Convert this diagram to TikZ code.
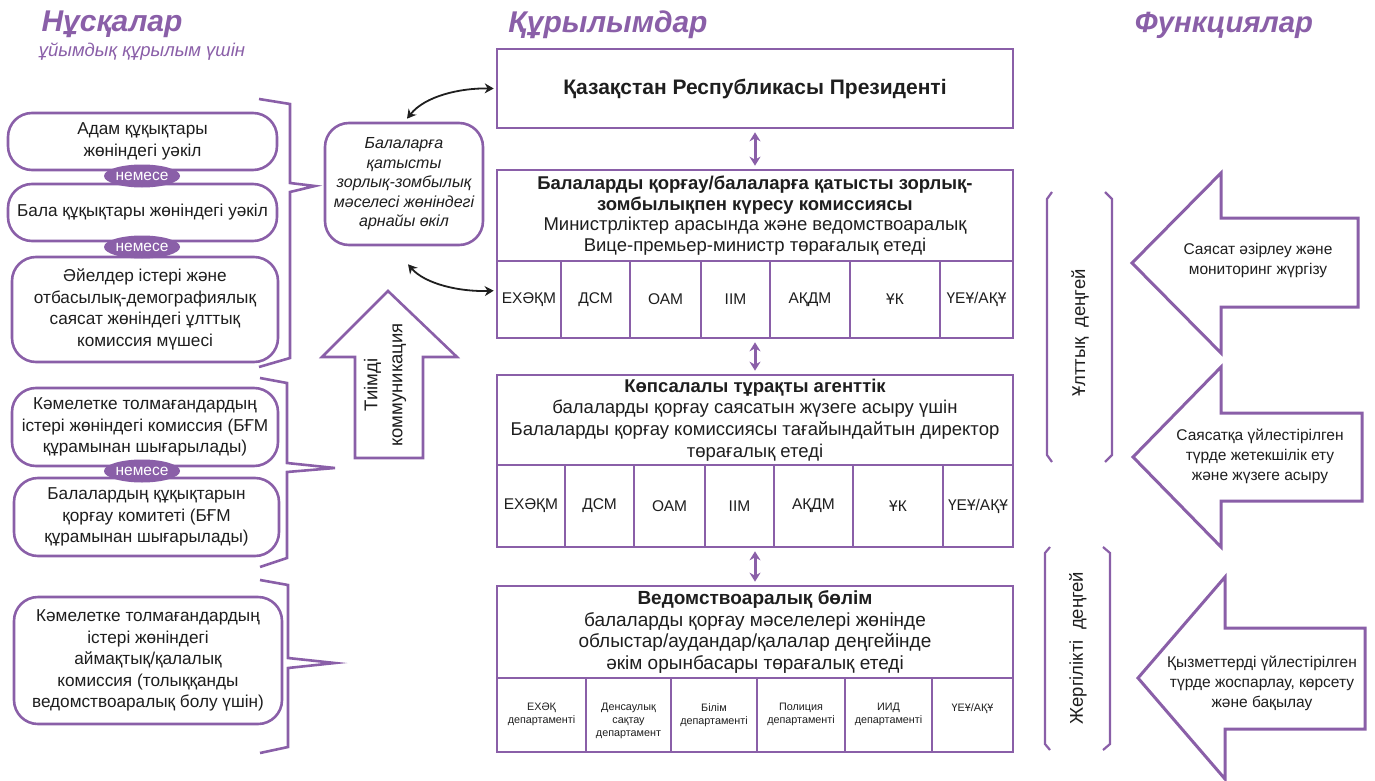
\documentclass[tikz,border=0pt]{standalone}
\usepackage{fontspec}
\setmainfont{Liberation Sans}
\usetikzlibrary{arrows.meta,calc,shapes.geometric}
\definecolor{pur}{RGB}{138,95,168}
\definecolor{txt}{RGB}{30,30,30}
\newcommand{\fsz}[2]{\fontsize{#1}{#2}\selectfont}
\begin{document}
\begin{tikzpicture}[x=1pt,y=-1pt,line join=miter,
  lbox/.style={draw=pur,line width=2.6pt,fill=white,rounded corners=24pt,align=center,text=txt,font=\fsz{17.2}{21.5},inner sep=0pt},
  mbox/.style={draw=pur,line width=2.6pt,align=center,text=txt,inner sep=0pt,font=\fsz{18.5}{20.5}},
  cell/.style={draw=pur,line width=2.6pt,align=center,text=txt,inner sep=0pt,font=\fsz{15.5}{18}},
  small/.style={align=center,text=txt,inner sep=0pt,font=\fsz{10.8}{13}},
  ornode/.style={ellipse,fill=pur,text=white,inner sep=0pt,minimum width=76pt,minimum height=23pt,font=\fsz{15.5}{16}},
  bracestyle/.style={draw=pur,line width=2.6pt},
  parrow/.style={draw=pur,line width=3pt,{Stealth[length=9pt,width=11pt]}-{Stealth[length=9pt,width=11pt]},shorten <=3pt,shorten >=3pt},
  barrow/.style={draw=black!88,line width=1.8pt,{Stealth[length=9pt,width=10pt]}-{Stealth[length=9pt,width=10pt]}},
  ttl/.style={text=pur,font=\fsz{30}{34}\bfseries\itshape,inner sep=0pt},
  bigarrow/.style={draw=pur,line width=3pt,fill=white},
  arrtext/.style={align=center,text=txt,font=\fsz{15.5}{20},inner sep=0pt},
  lvl/.style={rotate=90,text=txt,font=\fsz{18.5}{20},inner sep=0pt}]
\useasboundingbox (0,0) rectangle (1375,781);

% titles
\node[ttl] (t1) at (112,24) {Нұсқалар};
\node[text=pur,font=\fsz{18.5}{20}\itshape,inner sep=0pt] (t1b) at (142,52) {ұйымдық құрылым үшін};
\node[ttl] (t2) at (608,25) {Құрылымдар};
\node[ttl,font=\fsz{29.3}{34}\bfseries\itshape] (t3) at (1224,25) {Функциялар};

% left options
\node[lbox,minimum width=269pt,minimum height=57pt] (l1) at (142.5,141.5) {Адам құқықтары\\жөніндегі уәкіл};
\node[lbox,minimum width=269pt,minimum height=57pt] (l2) at (142.5,212.5) {Бала құқықтары жөніндегі уәкіл};
\node[lbox,minimum width=266pt,minimum height=105pt] (l3) at (145,309.5) {Әйелдер істері және\\отбасылық-демографиялық\\саясат жөніндегі ұлттық\\комиссия мүшесі};
\node[lbox,minimum width=266pt,minimum height=78pt] (l4) at (145,427) {Кәмелетке толмағандардың\\істері жөніндегі комиссия (БҒМ\\құрамынан шығарылады)};
\node[lbox,minimum width=265pt,minimum height=78pt] (l5) at (146.5,517) {Балалардың құқықтарын\\қорғау комитеті (БҒМ\\құрамынан шығарылады)};
\node[lbox,minimum width=268pt,minimum height=127pt] (l6) at (148,660.5) {Кәмелетке толмағандардың\\істері жөніндегі\\аймақтық/қалалық\\комиссия (толыққанды\\ведомствоаралық болу үшін)};
\node[ornode] (or1) at (142,176) {немесе};
\node[ornode] (or2) at (142,247) {немесе};
\node[ornode] (or3) at (142,471) {немесе};

% braces
\draw[bracestyle] (259,99) -- (290,104) -- (290,183) -- (315,186) -- (290,192) -- (290,358) -- (259,367);
\draw[bracestyle] (260,378) -- (287,383) -- (287,463) -- (335,468) -- (287,472) -- (287,558) -- (260,567);
\draw[bracestyle] (260,580) -- (288,585) -- (288,658) -- (335,663) -- (288,668) -- (288,747) -- (260,753);

% special representative
\node[lbox,rounded corners=24pt,minimum width=158pt,minimum height=122pt,font=\fsz{16}{19.5}\itshape] (rep) at (404,184) {Балаларға\\қатысты\\зорлық-зомбылық\\мәселесі жөніндегі\\арнайы өкіл};

% effective communication arrow
\draw[bigarrow,line width=2.6pt] (388,291) -- (457,357) -- (423,357) -- (423,458) -- (355,458) -- (355,357) -- (322,357) -- cycle;
\node[rotate=90,align=center,text=txt,font=\fsz{18.5}{25},inner sep=0pt] (comm) at (385,385) {Тиімді\\коммуникация};

% president
\node[mbox,minimum width=516pt,minimum height=79pt,font=\fsz{21}{24}\bfseries] (pres) at (755,88.5) {Қазақстан Республикасы Президенті};

% commission
\node[mbox,minimum width=516pt,minimum height=91pt] (commh) at (755,215.5) {\textbf{Балаларды қорғау/балаларға қатысты зорлық-}\\\textbf{зомбылықпен күресу комиссиясы}\\Министрліктер арасында және ведомствоаралық\\Вице-премьер-министр төрағалық етеді};
\foreach \a/\b/\t [count=\i] in {497/561/ЕХӘҚМ,561/630/ДСМ,630/701/ОАМ,701/770/ІІМ,770/850/АҚДМ,850/940/ҰК,940/1013/{ҮЕҰ/АҚҰ}}{
  \pgfmathsetmacro\w{\b-\a}
  \node[cell,minimum width=\w pt,minimum height=77pt] (ca\i) at ({(\a+\b)/2},299.5) {\t};
}

% agency
\node[mbox,minimum width=516pt,minimum height=90pt,font=\fsz{18.5}{21.7}] (agh) at (755,420) {\textbf{Көпсалалы тұрақты агенттік}\\балаларды қорғау саясатын жүзеге асыру үшін\\Балаларды қорғау комиссиясы тағайындайтын директор\\төрағалық етеді};
\foreach \a/\b/\t [count=\i] in {497/565/ЕХӘҚМ,565/634/ДСМ,634/705/ОАМ,705/774/ІІМ,774/853/АҚДМ,853/943/ҰК,943/1013/{ҮЕҰ/АҚҰ}}{
  \pgfmathsetmacro\w{\b-\a}
  \node[cell,minimum width=\w pt,minimum height=82pt] (cb\i) at ({(\a+\b)/2},506) {\t};
}

% department
\node[mbox,minimum width=516pt,minimum height=92pt,font=\fsz{19}{21.5}] (dph) at (755,632) {\textbf{Ведомствоаралық бөлім}\\балаларды қорғау мәселелері жөнінде\\облыстар/аудандар/қалалар деңгейінде\\әкім орынбасары төрағалық етеді};
\foreach \a/\b/\t [count=\i] in {497/586/{ЕХӘҚ\\департаменті},586/671/{Денсаулық\\сақтау\\департамент},671/757/{Білім\\департаменті},757/845/{Полиция\\департаменті},845/932/{ИИД\\департаменті},932/1013/{ҮЕҰ/АҚҰ}}{
  \pgfmathsetmacro\w{\b-\a}
  \node[cell,minimum width=\w pt,minimum height=74pt] (cc\i) at ({(\a+\b)/2},715) {};
  \node[small,anchor=north] (ct\i) at ({(\a+\b)/2},703) {\t};
}

% vertical purple arrows
\draw[parrow] (pres.south) -- (commh.north);
\draw[parrow] (ca4.south -| agh.north) -- (agh.north);
\draw[parrow] (cb4.south -| dph.north) -- (dph.north);

% curved black arrows
\coordinate (r1) at ($(rep.north)+(3,-3)$);
\coordinate (r2) at ($(rep.south)+(4,18)$);
\coordinate (p1) at ($(pres.west)+(-2,0)$);
\coordinate (p2) at ($(ca1.north west)+(-2,31)$);
\draw[barrow] (r1) .. controls (425,96) and (460,88) .. (p1);
\draw[barrow] (r2) .. controls (425,284) and (460,292) .. (p2);

% level brackets
\draw[bracestyle,line width=2.2pt] (1052,192) -- (1047,199) -- (1047,455) -- (1052,462);
\draw[bracestyle,line width=2.2pt] (1105,192) -- (1112,199) -- (1112,455) -- (1105,462);
\node[lvl] (nat) at (1080,333) {Ұлттық\ \ деңгей};
\draw[bracestyle,line width=2.2pt] (1050,547) -- (1045,553) -- (1045,744) -- (1050,750);
\draw[bracestyle,line width=2.2pt] (1103,547) -- (1110,553) -- (1110,744) -- (1103,750);
\node[lvl] (loc) at (1078,648) {Жергілікті\ \ деңгей};

% function arrows
\draw[bigarrow] (1132,263) -- (1221,173) -- (1221,218) -- (1358,218) -- (1358,307) -- (1221,307) -- (1221,353) -- cycle;
\node[arrtext] (f1) at (1258,260) {Саясат әзірлеу және\\мониторинг жүргізу};
\draw[bigarrow] (1133,457) -- (1221,367) -- (1221,413) -- (1362,413) -- (1362,501) -- (1221,501) -- (1221,547) -- cycle;
\node[arrtext] (f2) at (1260,456) {Саясатқа үйлестірілген\\түрде жетекшілік ету\\және жүзеге асыру};
\draw[bigarrow] (1138,678) -- (1225,577) -- (1225,628) -- (1365,628) -- (1365,729) -- (1225,729) -- (1225,779) -- cycle;
\node[arrtext] (f3) at (1262,683) {Қызметтерді үйлестірілген\\түрде жоспарлау, көрсету\\және бақылау};
\end{tikzpicture}
\end{document}
